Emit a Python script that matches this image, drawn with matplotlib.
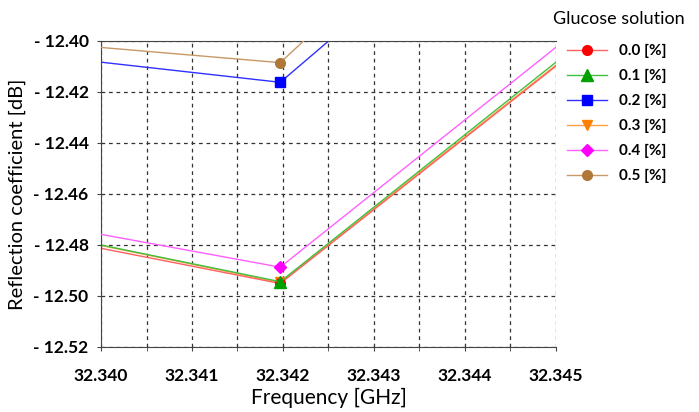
import matplotlib
matplotlib.use("Agg")
import matplotlib.pyplot as plt
from matplotlib.ticker import MultipleLocator, FuncFormatter

plt.rcParams['font.family'] = ['Lato', 'DejaVu Sans']

# frequency points [GHz] (outer points lie outside the visible window)
freq = [32.3390, 32.34197, 32.3460]

# reflection coefficient [dB] per glucose concentration
s00 = [-12.4743, -12.4951, -12.3817]
s01 = [-12.4727, -12.4944, -12.3799]
s02 = [-12.4043, -12.4162, -12.2933]
s03 = [-12.4728, -12.4947, -12.3813]
s04 = [-12.4693, -12.4887, -12.3740]
s05 = [-12.3995, -12.4085, -12.2747]

labels = ['0.0 [%]', '0.1 [%]', '0.2 [%]', '0.3 [%]', '0.4 [%]', '0.5 [%]']
series = [s00, s01, s02, s03, s04, s05]
line_colors = ['#ff6060', '#40c040', '#3030ff', '#ffa040', '#ff60ff', '#c89868']
mark_colors = ['#ff0000', '#00a000', '#0000ff', '#ff8000', '#ff00ff', '#b07838']
markers = ['o', '^', 's', 'v', 'D', 'o']
msizes = [7, 8, 7, 7, 6, 7]
zorders = [2.2, 2.4, 2.5, 2.0, 2.6, 2.7]

fig = plt.figure(figsize=(6.99, 4.12), dpi=100)
ax = fig.add_axes([0.1445, 0.1578, 0.6509, 0.7427])

for y, lab, lc, mc, mk, ms, z in zip(series, labels, line_colors, mark_colors,
                                      markers, msizes, zorders):
    ax.plot(freq, y, color=lc, lw=1.0, marker=mk, markersize=ms,
            markerfacecolor=mc, markeredgecolor=mc, label=lab, zorder=z)

ax.set_xlim(32.340, 32.345)
ax.set_ylim(-12.52, -12.40)
ax.xaxis.set_major_locator(MultipleLocator(0.001))
ax.xaxis.set_minor_locator(MultipleLocator(0.0005))
ax.yaxis.set_major_locator(MultipleLocator(0.02))
ax.xaxis.set_major_formatter(FuncFormatter(lambda v, p: f"{v:.3f}"))
ax.yaxis.set_major_formatter(FuncFormatter(lambda v, p: f"- {abs(v):.2f}"))

ax.grid(True, which='both', axis='x', color='#333333', linestyle=(0, (3, 3)), lw=0.9)
ax.grid(True, which='major', axis='y', color='#333333', linestyle=(0, (3, 3)), lw=0.9)
ax.set_axisbelow(True)

ax.tick_params(axis='both', which='both', length=3, color='#444444', labelsize=12.5)
ax.tick_params(axis='y', pad=6)
ax.tick_params(axis='x', which='major', pad=12)
for t in ax.get_xticklabels() + ax.get_yticklabels():
    t.set_fontweight('bold')

for side in ['left', 'bottom', 'top']:
    ax.spines[side].set_color('#444444')
ax.spines['right'].set_visible(False)

ax.set_xlabel('Frequency [GHz]', fontsize=15, labelpad=3)
ax.set_ylabel('Reflection coefficient [dB]', fontsize=14.5, labelpad=5)

fig.text(619 / 699, 1 - 19 / 412, 'Glucose solution', fontsize=13,
         ha='center', va='center')
leg = fig.legend(loc='upper left', bbox_to_anchor=(0.8118, 1 - 44 / 412), frameon=False,
                 prop={'weight': 'bold', 'size': 11}, handlelength=2.6,
                 labelspacing=0.71, handletextpad=0.8, borderaxespad=0,
                 borderpad=0)

fig.savefig('out.png', dpi=100)
